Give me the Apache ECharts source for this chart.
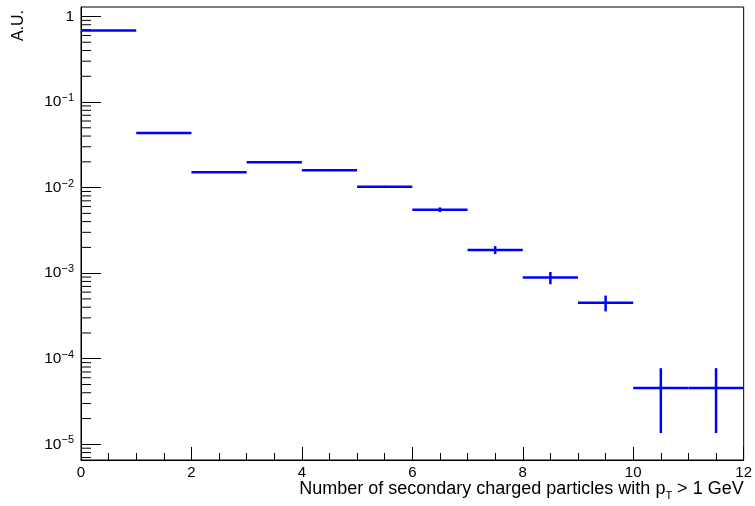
<!DOCTYPE html>
<html><head><meta charset="utf-8">
<script src="https://cdn.jsdelivr.net/npm/echarts@6/dist/echarts.min.js"></script>
<style>html,body{margin:0;padding:0;background:#fff}#c{width:755px;height:506px}</style>
</head><body><div id="c"></div>
<script>
// Histogram bins (low edge, high edge), contents and errors
var binLow  = [0, 1, 2, 3, 4, 5, 6, 7, 8, 9, 10, 11];
var binHigh = [1, 2, 3, 4, 5, 6, 7, 8, 9, 10, 11, 12];
var values  = [0.686, 0.0434, 0.0151, 0.0198, 0.0159, 0.0102, 0.00552, 0.00187, 0.000887, 0.000452, 0.0000455, 0.0000455];
var errors  = [0.003, 0.0006, 0.0003, 0.0004, 0.0003, 0.0003, 0.00035, 0.0002, 0.000145, 0.000095, 0.000032, 0.000032];
var yMin = 6.55e-6, yMax = 1.29;
var xTitle = 'Number of secondary charged particles with p{sub|T} > 1 GeV';
var yTitle = 'A.U.';

var FONT = 'Liberation Sans, Arial, Helvetica, sans-serif';
var histData = binLow.map(function (lo, i) { return [lo, binHigh[i], values[i], errors[i]]; });

// minor log ticks 2..9 x 10^k
var minorVals = [];
for (var k = -6; k <= 0; k++) {
  for (var m = 2; m <= 9; m++) {
    var v = m * Math.pow(10, k);
    if (v > yMin && v < yMax) minorVals.push([0, v]);
  }
}

var chart = echarts.init(document.getElementById('c'), null, {renderer: 'canvas'});
chart.setOption({
  animation: false,
  grid: {left: 81, right: 10, top: 7, bottom: 46, show: true, borderColor: '#000', borderWidth: 1, backgroundColor: 'transparent'},
  xAxis: {
    type: 'value', min: 0, max: 12, interval: 2,
    axisLine: {lineStyle: {color: '#000', width: 1}},
    axisTick: {inside: true, length: 13, lineStyle: {color: '#000'}},
    minorTick: {show: true, splitNumber: 4, length: 7, lineStyle: {color: '#000'}},
    splitLine: {show: false},
    axisLabel: {color: '#000', fontFamily: FONT, fontSize: 15, margin: 5},
    name: xTitle,
    nameLocation: 'end', nameGap: 0,
    nameTextStyle: {color: '#000', fontFamily: FONT, fontSize: 18, align: 'right', verticalAlign: 'top', padding: [18, 0, 0, 0],
      rich: {sub: {fontSize: 11, fontFamily: FONT, color: '#000', padding: [12, 0, 0, 0]}}}
  },
  yAxis: {
    type: 'log', logBase: 10, min: yMin, max: yMax,
    axisLine: {lineStyle: {color: '#000', width: 1}},
    axisTick: {inside: true, length: 20, lineStyle: {color: '#000'}},
    splitLine: {show: false},
    axisLabel: {
      color: '#000', fontFamily: FONT, fontSize: 15.5, margin: 7,
      showMinLabel: false, showMaxLabel: false,
      formatter: function (v) {
        var e = Math.round(Math.log(v) / Math.LN10);
        if (Math.abs(Math.log(v) / Math.LN10 - e) > 1e-6) return '';
        if (e === 0) return '1';
        return '10{sup|' + (e < 0 ? '\u2212' : '') + Math.abs(e) + '}';
      },
      rich: {sup: {fontSize: 11, fontFamily: FONT, color: '#000', padding: [0, 0, 8, 0]}}
    }
  },
  graphic: [{
    type: 'text', x: 27, y: 10, rotation: Math.PI / 2,
    style: {text: yTitle, font: '16px ' + FONT, fill: '#000', align: 'right', verticalAlign: 'bottom'}
  }],
  series: [{
    type: 'custom', silent: true, clip: false,
    data: minorVals,
    renderItem: function (params, api) {
      var p = api.coord([0, api.value(1)]);
      return {type: 'line', shape: {x1: p[0], y1: p[1], x2: p[0] + 10, y2: p[1]}, style: {stroke: '#000', lineWidth: 1}};
    }
  }, {
    type: 'custom', silent: true, clip: true,
    data: histData,
    renderItem: function (params, api) {
      var lo = api.value(0), hi = api.value(1), v = api.value(2), e = api.value(3);
      var a = api.coord([lo, v]), b = api.coord([hi, v]);
      var mid = (lo + hi) / 2;
      var top = api.coord([mid, v + e]);
      var bot = api.coord([mid, Math.max(v - e, yMin * 0.5)]);
      var st = {stroke: '#0000ff', lineWidth: 2.5};
      return {type: 'group', children: [
        {type: 'line', shape: {x1: a[0], y1: a[1], x2: b[0], y2: b[1]}, style: st},
        {type: 'line', shape: {x1: top[0], y1: top[1], x2: bot[0], y2: bot[1]}, style: st}
      ]};
    }
  }]
});
</script></body></html>
